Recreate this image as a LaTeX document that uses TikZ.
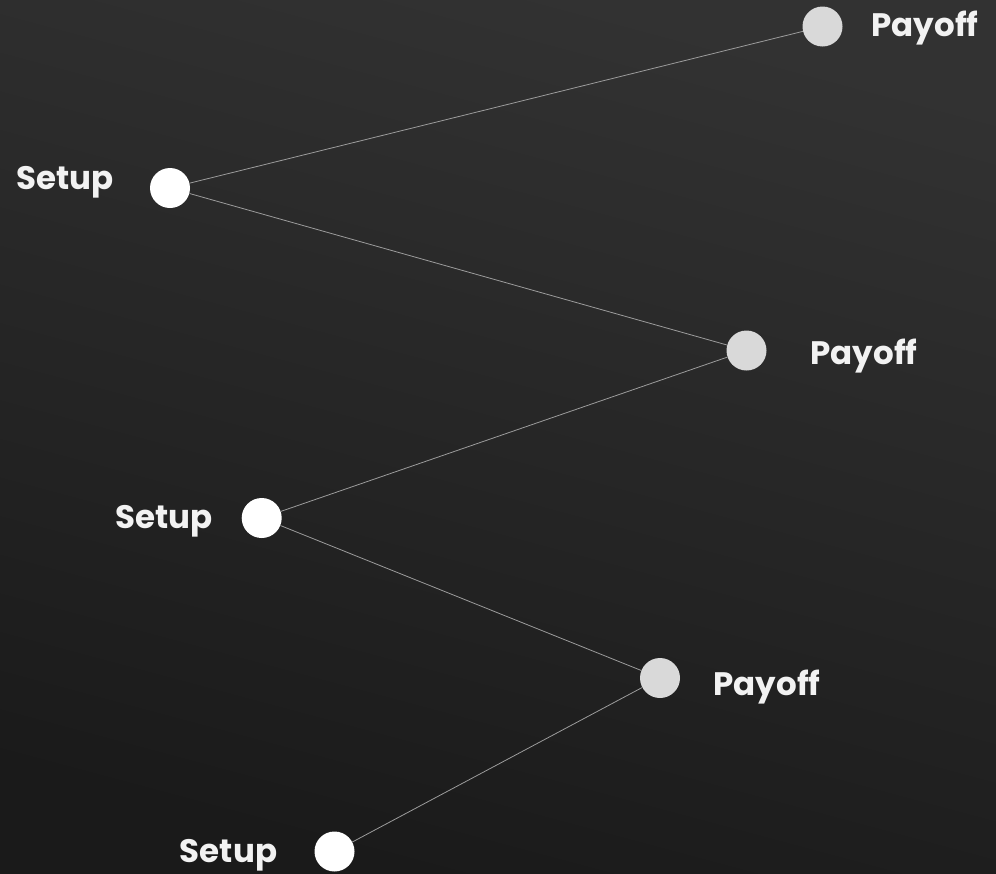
\documentclass[tikz,border=0pt]{standalone}
\usepackage{fontspec}
\setmainfont{Poppins}
\definecolor{bgtop}{HTML}{323232}
\definecolor{bgbot}{HTML}{1A1A1A}
\definecolor{setupc}{HTML}{FFFFFF}
\definecolor{payoffc}{HTML}{D9D9D9}
\definecolor{linec}{HTML}{9C9C9C}
\definecolor{txt}{HTML}{F2F2F2}
\begin{document}
\begin{tikzpicture}[x=1pt,y=-1pt,
  setupdot/.style={circle,fill=setupc,minimum size=40pt,inner sep=0pt},
  payoffdot/.style={circle,fill=payoffc,minimum size=40pt,inner sep=0pt},
  lbl/.style={text=txt,font=\bfseries\fontsize{32.5}{32.5}\selectfont,inner sep=0pt,text height=22.5pt,text depth=0pt,anchor=center},
  link/.style={draw=linec,line width=0.8pt}]
\shade[top color=bgtop,bottom color=bgbot,shading angle=-15] (0,0) rectangle (996,873);
\useasboundingbox (0,0) rectangle (996,873);
\node[setupdot] (s1) at (170,188) {};
\node[payoffdot] (p1) at (822.5,26.5) {};
\node[payoffdot] (p2) at (746.5,350.5) {};
\node[setupdot] (s2) at (261.7,518) {};
\node[payoffdot] (p3) at (660,678) {};
\node[setupdot] (s3) at (334.5,851.5) {};
\draw[link] (s1) -- (p1);
\draw[link] (s1) -- (p2);
\draw[link] (p2) -- (s2);
\draw[link] (s2) -- (p3);
\draw[link] (p3) -- (s3);
\node[lbl] (ls1) at (65,178) {Setup};
\node[lbl] (lp1) at (925,25) {Payoff};
\node[lbl] (lp2) at (864,353) {Payoff};
\node[lbl] (ls2) at (164,517) {Setup};
\node[lbl] (lp3) at (767,684) {Payoff};
\node[lbl] (ls3) at (228.5,851.5) {Setup};
\end{tikzpicture}
\end{document}
